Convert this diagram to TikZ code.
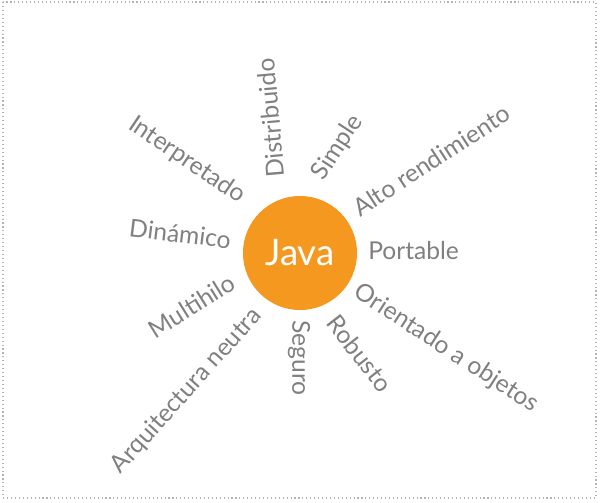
\documentclass[tikz,border=0pt]{standalone}
\usepackage{fontspec}
\setmainfont{Lato}
\definecolor{javaorange}{RGB}{245,152,32}
\definecolor{labelgray}{RGB}{128,128,128}
\tikzstyle{feature} = [text=labelgray, inner sep=0pt, font=\fontsize{17.5}{21}\selectfont]
\tikzstyle{sun} = [circle, fill=javaorange, text=white, minimum size=2.85cm, inner sep=0pt, font=\fontsize{26}{31}\selectfont]

\begin{document}
\begin{tikzpicture}[x=0.025cm, y=-0.025cm]
        \useasboundingbox (0,0) rectangle (600,502);
        \draw[labelgray!60, dotted, line width=0.8pt] (3,2) rectangle (596,498);
        \node[sun] (java) at (300,253) {Java};
        %derecha
        \node[feature, anchor=west] (portable) at (368,251) {Portable};
        \node[feature, anchor=west, rotate=33] (alto) at (355,210) {Alto rendimiento};
        \node[feature, anchor=west, rotate=57] (simple) at (318,178) {Simple};
        \node[feature, anchor=west, rotate=95] (distribuido) at (276,178) {Distribuido};
        \node[feature, anchor=west, rotate=-33] (orientado) at (356,290) {Orientado a objetos};
        \node[feature, anchor=west, rotate=-52] (robusto) at (332,318) {Robusto};
        \node[feature, anchor=west, rotate=-90] (seguro) at (299,320) {Seguro};
        %izquierda
        \node[feature, anchor=east, rotate=-7] (dinamico) at (231,240) {Dinámico};
        \node[feature, anchor=east, rotate=-34] (interpretado) at (243,198) {Interpretado};
        \node[feature, anchor=east, rotate=32] (multihilo) at (233,280) {Multihilo};
        \node[feature, anchor=east, rotate=48] (arquitectura) at (258,312) {Arquitectura neutra};
\end{tikzpicture}
\end{document}
